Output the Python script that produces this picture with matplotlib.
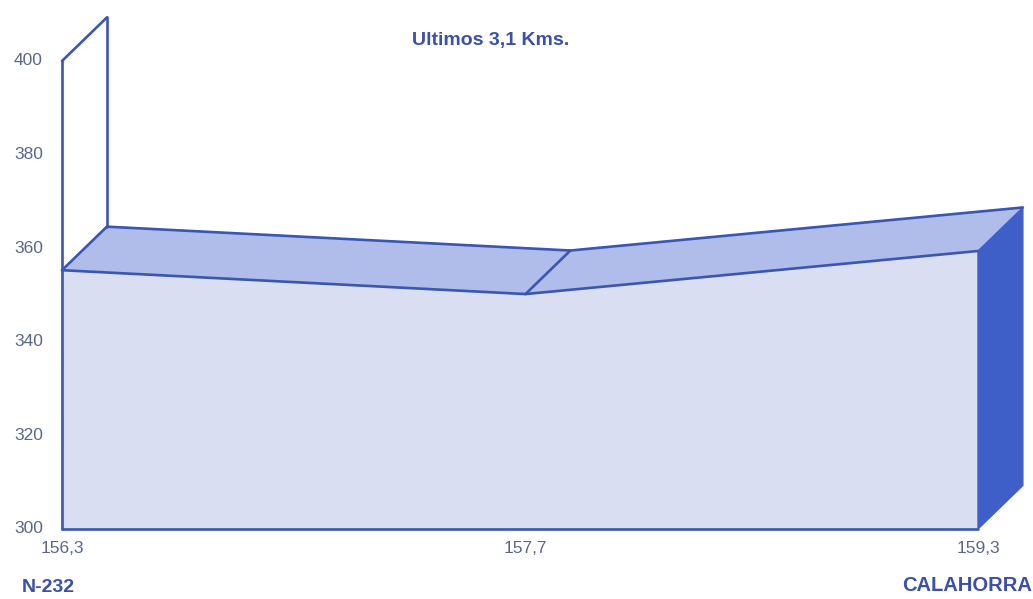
import matplotlib.pyplot as plt

# datos del perfil
km_labels = ['156,3', '157,7', '159,3']
altitudes = [355.3, 350.2, 359.4]
y_ticks = [300, 320, 340, 360, 380, 400]

# colores
c_front = '#d9def3'
c_top = '#b0bce9'
c_side = '#3f5fc8'
c_line = '#3a56b5'
c_text = '#5a6690'
c_title = '#3a4fb0'

dx, dy = 0.098, 9.3       # desplazamiento de profundidad (efecto 3D)
base, top = 300, 400

fig = plt.figure(figsize=(10.33, 5.99), dpi=100)
ax = fig.add_axes([0, 0, 1, 1])
ax.set_xlim(-0.1354, 2.1201)
ax.set_ylim(285.04, 413.03)
ax.axis('off')

xs = [0, 1.012, 2]        # posiciones de las categorías en el eje x
n = xs[-1]

# cara frontal
ax.fill([0] + xs + [n], [base] + altitudes + [base], color=c_front, zorder=1)
# caras superiores
for i in range(len(xs) - 1):
    ax.fill([xs[i], xs[i + 1], xs[i + 1] + dx, xs[i] + dx],
            [altitudes[i], altitudes[i + 1], altitudes[i + 1] + dy, altitudes[i] + dy],
            color=c_top, zorder=1)
# cara lateral derecha
ax.fill([n, n, n + dx, n + dx], [base, altitudes[-1], altitudes[-1] + dy, base + dy],
        color=c_side, zorder=1)

lw = 1.9
kw = dict(color=c_line, lw=lw, solid_capstyle='round', solid_joinstyle='round', zorder=3)
ax.plot([0, n], [base, base], **kw)
ax.plot([0, 0], [base, top], **kw)
ax.plot([0, dx], [top, top + dy], **kw)
ax.plot([dx, dx], [top + dy, altitudes[0] + dy], **kw)
ax.plot(xs, altitudes, **kw)
ax.plot([x + dx for x in xs], [a + dy for a in altitudes], **kw)
for x, a in zip(xs[:-1], altitudes[:-1]):
    ax.plot([x, x + dx], [a, a + dy], **kw)

# etiquetas de ejes
for t in y_ticks:
    ax.text(-0.042, t, str(t), ha='right', va='center', fontsize=12.5,
            color=c_text, family='Liberation Sans')
for x, lab in zip(xs, km_labels):
    ax.text(x, base - 4.1, lab, ha='center', va='center', fontsize=12.5,
            color=c_text, family='Liberation Sans')

ax.text(0.935, 404.3, 'Ultimos 3,1 Kms.', ha='center', va='center', fontsize=14,
        fontweight='bold', color=c_title, family='Liberation Sans')
ax.text(-0.087, 287.5, 'N-232', ha='left', va='center', fontsize=14,
        fontweight='bold', color=c_title, family='Liberation Sans')
ax.text(2.119, 287.9, 'CALAHORRA', ha='right', va='center', fontsize=14.5,
        fontweight='bold', color=c_title, family='Liberation Sans')

plt.savefig('out.png', dpi=100)
